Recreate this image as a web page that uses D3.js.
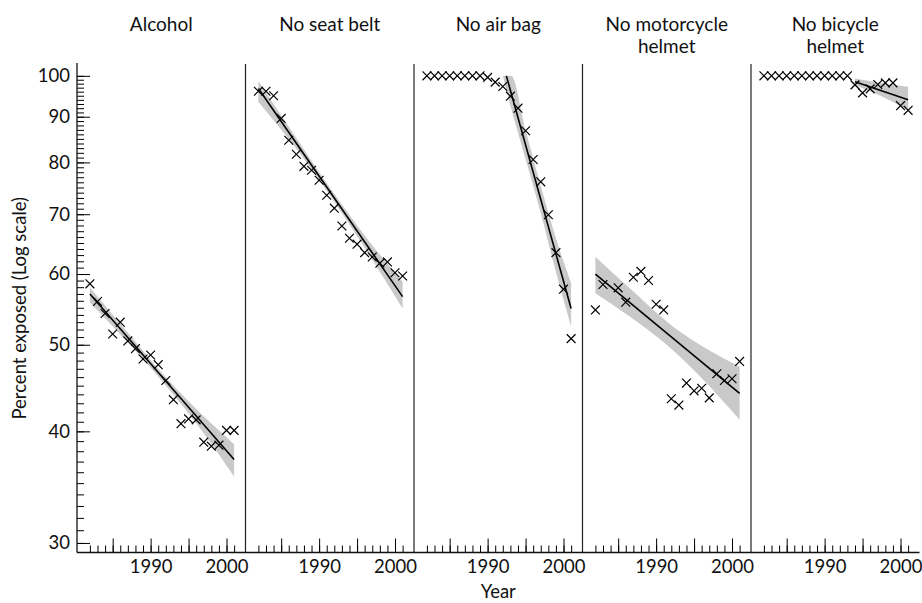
<!DOCTYPE html>
<html>
<head>
<meta charset="utf-8">
<script src="https://cdn.jsdelivr.net/npm/d3@7"></script>
<style>
  body { margin: 0; background: #fff; }
  text { font-family: Lato, "Open Sans", sans-serif; fill: #111; }
</style>
</head>
<body>
<div id="chart"></div>
<script>

// survey years (same for every panel)
var years = [1982, 1983, 1984, 1985, 1986, 1987, 1988, 1989, 1990, 1991,
             1992, 1993, 1994, 1995, 1996, 1997, 1998, 1999, 2000, 2001];

var titles = [["Alcohol"], ["No seat belt"], ["No air bag"],
              ["No motorcycle", "helmet"], ["No bicycle", "helmet"]];

// percent exposed (null = no survey)
var alcohol    = [58.5, 55.9, 54.2, 51.4, 53.0, 50.5, 49.5, 48.2, 48.7, 47.5,
                  45.6, 43.4, 40.8, 41.3, 41.2, 38.9, 38.5, 38.6, 40.1, 40.1];
var seatBelt   = [96.1, 96.1, 95.0, 89.6, 84.7, 81.7, 79.2, 78.4, 76.4, 73.5,
                  71.1, 67.9, 65.8, 64.8, 63.4, 62.7, 61.7, 61.9, 60.2, 59.7];
var airBag     = [100, 100, 100, 100, 100, 100, 100, 100, 99.6, 98.4,
                  97.3, 94.9, 92.0, 86.8, 80.6, 76.1, 69.9, 63.4, 57.7, 50.8];
var motorcycle = [54.7, 58.4, null, 57.9, 55.8, 59.5, 60.4, 59.0, 55.5, 54.7,
                  43.5, 42.8, 45.3, 44.4, 44.7, 43.6, 46.4, 45.6, 45.8, 47.9];
var bicycle    = [100, 100, 100, 100, 100, 100, 100, 100, 100, 100,
                  100, 100, 97.7, 95.7, 96.7, 97.8, 98.2, 98.2, 92.6, 91.5];

var series = [alcohol, seatBelt, airBag, motorcycle, bicycle];

// fitted trend lines: start / end year and value
var fitYears = [[1982, 2001], [1982, 2001], [1992.47, 2001], [1982, 2001], [1994, 2001]];
var fitVals  = [[57.0, 37.2], [96.8, 56.6], [100, 54.9], [60.0, 44.1], [98.5, 94.0]];

// confidence bands around the trend lines
var bandYears = [[1982, 1986.75, 1991.5, 1996.25, 2001],
                 [1982, 1986.75, 1991.5, 1996.25, 2001],
                 [1992.0, 1993.1, 1995, 1997, 1999, 2001],
                 [1982, 1986.75, 1991.5, 1996.25, 2001],
                 [1994, 1997.5, 2001]];
var bandHi = [[57.95, 51.86, 46.49, 42.17, 38.7],
              [98.6, 85.8, 74.8, 65.85, 58.8],
              [100, 100, 86.9, 75.3, 65.8, 58.6],
              [62.75, 57.6, 53.0, 49.7, 47.25],
              [99.3, 98.2, 97.2]];
var bandLo = [[55.8, 50.54, 45.54, 40.58, 35.6],
              [93.5, 83.4, 73.3, 63.7, 54.9],
              [100, 92.0, 80.7, 70.2, 60.3, 52.4],
              [57.1, 53.6, 49.9, 45.65, 41.2],
              [97.6, 94.9, 91.5]];

// axis ticks
var yMajor = [30, 40, 50, 60, 70, 80, 90, 100];
var yMinor = d3.range(30, 101);
var xMajor = [1985, 1990, 1995, 2000];
var xMinor = d3.range(1982, 2002);
var xLabels = [1990, 2000];


var W = 922, H = 603;
var left = 77, top_ = 64, bottom = 552.5, panelW = 168.5;

var svg = d3.select("#chart")
  .append("svg")
  .attr("width", W)
  .attr("height", H);

// log y scale shared by all panels
var y = d3.scaleLog()
  .domain([29.27, 103.1])
  .range([bottom, top_]);

// y axis: minor then major ticks (pointing inwards)
svg.append("g")
  .attr("transform", "translate(" + left + ",0)")
  .call(d3.axisLeft(y).tickValues(yMinor).tickSize(-7).tickFormat(""))
  .call(g => g.select(".domain").remove());
svg.append("g")
  .attr("transform", "translate(" + left + ",0)")
  .call(d3.axisLeft(y).tickValues(yMajor).tickSize(-13).tickPadding(7).tickFormat(d3.format("d")))
  .call(g => g.select(".domain").remove())
  .call(g => g.selectAll("text").style("font-size", "18.5px").attr("fill", "#111"));

var cross = "M-4.4,-4.4L4.4,4.4M-4.4,4.4L4.4,-4.4";

for (var p = 0; p < 5; p++) {
  var x0 = left + p * panelW;
  var x = d3.scaleLinear()
    .domain([1980.3, 2002.5])
    .range([x0, x0 + panelW]);

  // x ticks
  svg.append("g")
    .attr("transform", "translate(0," + bottom + ")")
    .call(d3.axisBottom(x).tickValues(xMinor).tickSize(-7).tickFormat(""))
    .call(g => g.select(".domain").remove());
  svg.append("g")
    .attr("transform", "translate(0," + bottom + ")")
    .call(d3.axisBottom(x).tickValues(xMajor).tickSize(-14).tickPadding(7)
      .tickFormat(d => xLabels.indexOf(d) >= 0 ? d : ""))
    .call(g => g.select(".domain").remove())
    .call(g => g.selectAll("text").style("font-size", "18.5px").attr("fill", "#111"));

  // confidence band
  var band = bandYears[p].map((yr, i) => ({yr: yr, lo: bandLo[p][i], hi: bandHi[p][i]}));
  svg.append("path")
    .datum(band)
    .attr("fill", "#c9c9c9")
    .attr("d", d3.area()
      .curve(d3.curveMonotoneX)
      .x(d => x(d.yr))
      .y0(d => y(d.lo))
      .y1(d => y(d.hi)));

  // trend line
  svg.append("path")
    .datum([0, 1])
    .attr("fill", "none")
    .attr("stroke", "#000")
    .attr("stroke-width", 1.6)
    .attr("d", d3.line()
      .x(i => x(fitYears[p][i]))
      .y(i => y(fitVals[p][i])));

  // observed points
  var pts = years.map((yr, i) => ({yr: yr, v: series[p][i]})).filter(d => d.v != null);
  svg.append("g")
    .selectAll("path")
    .data(pts)
    .join("path")
    .attr("transform", d => "translate(" + x(d.yr) + "," + y(d.v) + ")")
    .attr("d", cross)
    .attr("fill", "none")
    .attr("stroke", "#000")
    .attr("stroke-width", 1.2);

  // panel title
  svg.append("text")
    .attr("text-anchor", "middle")
    .attr("x", x0 + panelW / 2)
    .attr("y", 31)
    .style("font-size", "19px")
    .selectAll("tspan")
    .data(titles[p])
    .join("tspan")
    .attr("x", x0 + panelW / 2)
    .attr("dy", (d, i) => i == 0 ? 0 : 22)
    .text(d => d);

  // divider to the right of the panel
  if (p < 4) {
    svg.append("line")
      .attr("x1", x0 + panelW).attr("x2", x0 + panelW)
      .attr("y1", top_).attr("y2", bottom)
      .attr("stroke", "#222")
      .attr("stroke-width", 1.2);
  }
}

// axis lines
svg.append("line")
  .attr("x1", left).attr("x2", left + 5 * panelW)
  .attr("y1", bottom).attr("y2", bottom)
  .attr("stroke", "#111").attr("stroke-width", 1.3);
svg.append("line")
  .attr("x1", left).attr("x2", left)
  .attr("y1", top_ - 1).attr("y2", bottom)
  .attr("stroke", "#111").attr("stroke-width", 1.3);

// axis titles
svg.append("text")
  .attr("text-anchor", "middle")
  .attr("x", left + 5 * panelW / 2)
  .attr("y", 598)
  .style("font-size", "18.5px")
  .text("Year");
svg.append("text")
  .attr("text-anchor", "middle")
  .attr("transform", "translate(26," + (top_ + bottom) / 2 + ")rotate(-90)")
  .style("font-size", "18.5px")
  .text("Percent exposed (Log scale)");

</script>
</body>
</html>
